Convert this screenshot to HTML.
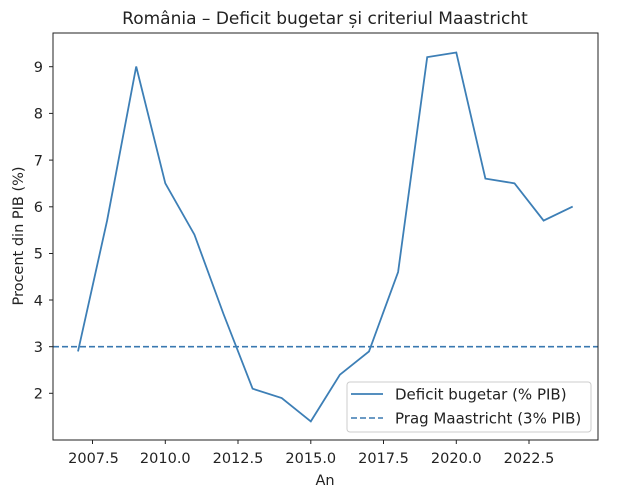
<!DOCTYPE html><html><head><style>body{margin:0;background:#fff}svg{font-family:"DejaVu Sans","Liberation Sans",sans-serif}</style></head><body>
<svg width="619" height="499" xmlns="http://www.w3.org/2000/svg">
<rect width="619" height="499" fill="#fff"/>
<text x="325" y="24" font-size="17" text-anchor="middle" fill="#222">România – Deficit bugetar și criteriul Maastricht</text>
<line x1="53" y1="346.7" x2="598" y2="346.7" stroke="#3a78b0" stroke-width="1.6" stroke-dasharray="6,3"/>
<polyline fill="none" stroke="#3d7fb6" stroke-width="1.8" points="78,351.4 107.1,220.6 136.2,66.5 165.3,183.3 194.4,234.6 223.5,314 252.6,388.7 281.7,398 310.8,421.4 339.9,374.7 369,351.4 398.1,272 427.2,57.1 456.3,52.5 485.4,178.6 514.5,183.3 543.6,220.6 572.7,206.6"/>
<rect x="53" y="33" width="545" height="407" fill="none" stroke="#222" stroke-width="1"/>
<g font-size="14.5" fill="#222" text-anchor="end">
<g stroke="#222"><line x1="49" y1="66.7" x2="53" y2="66.7"/><line x1="49" y1="113.4" x2="53" y2="113.4"/><line x1="49" y1="160.1" x2="53" y2="160.1"/><line x1="49" y1="206.8" x2="53" y2="206.8"/><line x1="49" y1="253.5" x2="53" y2="253.5"/><line x1="49" y1="300" x2="53" y2="300"/><line x1="49" y1="346.7" x2="53" y2="346.7"/><line x1="49" y1="393.3" x2="53" y2="393.3"/></g>
<text x="43" y="72">9</text><text x="43" y="118.5">8</text><text x="43" y="165.5">7</text><text x="43" y="212">6</text><text x="43" y="258.5">5</text><text x="43" y="305.5">4</text><text x="43" y="352">3</text><text x="43" y="398.5">2</text>
</g>
<g font-size="14.5" fill="#222" text-anchor="middle">
<g stroke="#222"><line x1="92.5" y1="440" x2="92.5" y2="444"/><line x1="165.3" y1="440" x2="165.3" y2="444"/><line x1="238" y1="440" x2="238" y2="444"/><line x1="310.8" y1="440" x2="310.8" y2="444"/><line x1="383.5" y1="440" x2="383.5" y2="444"/><line x1="456.3" y1="440" x2="456.3" y2="444"/><line x1="529" y1="440" x2="529" y2="444"/></g>
<text x="93.5" y="463">2007.5</text><text x="165.3" y="463">2010.0</text><text x="238" y="463">2012.5</text><text x="310.8" y="463">2015.0</text><text x="383.5" y="463">2017.5</text><text x="456.3" y="463">2020.0</text><text x="529" y="463">2022.5</text>
<text x="325" y="485">An</text>
<text transform="translate(23,236) rotate(-90)">Procent din PIB (%)</text>
</g>
<rect x="347" y="382" width="244" height="50" rx="3" fill="#fff" stroke="#ccc"/>
<line x1="351" y1="394" x2="383" y2="394" stroke="#3d7fb6" stroke-width="1.8"/>
<line x1="351" y1="418" x2="383" y2="418" stroke="#3a78b0" stroke-width="1.6" stroke-dasharray="6,3"/>
<text x="395" y="399.5" font-size="15" fill="#222">Deficit bugetar (% PIB)</text>
<text x="395" y="423.5" font-size="15" fill="#222">Prag Maastricht (3% PIB)</text>
</svg></body></html>
